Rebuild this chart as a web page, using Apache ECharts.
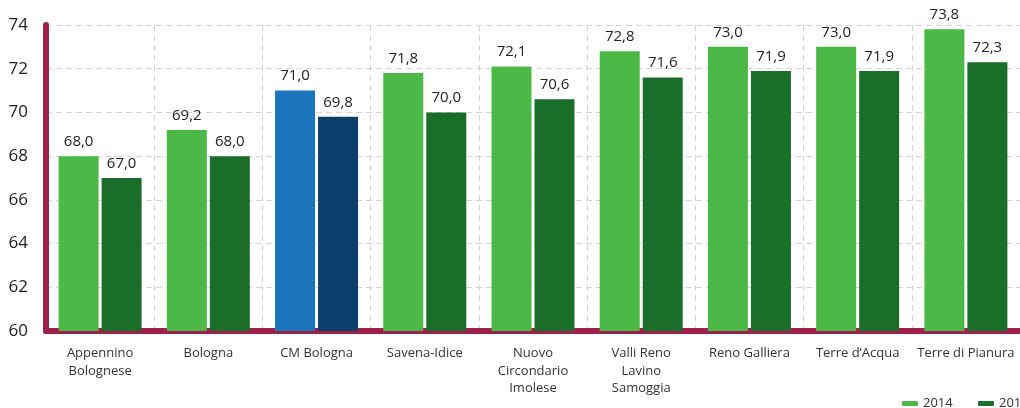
<!DOCTYPE html>
<html><head><meta charset="utf-8">
<script src="https://cdn.jsdelivr.net/npm/echarts@6/dist/echarts.min.js"></script>
<style>html,body{margin:0;padding:0;background:#fff}#c{width:1020px;height:408px}</style>
</head><body><div id="c"></div>
<script>
const categories = ['Appennino\nBolognese','Bologna','CM Bologna','Savena-Idice','Nuovo\nCircondario\nImolese','Valli Reno\nLavino\nSamoggia','Reno Galliera','Terre d\u2019Acqua','Terre di Pianura'];
const values2014 = [68.0, 69.2, 71.0, 71.8, 72.1, 72.8, 73.0, 73.0, 73.8];
const values2019 = [67.0, 68.0, 69.8, 70.0, 70.6, 71.6, 71.9, 71.9, 72.3];
const seriesNames = ['2014', '2019'];
const highlightCategory = 'CM Bologna';

const C1 = '#4cb848', C2 = '#1a6e2a', H1 = '#1a75bc', H2 = '#0c3f6b';
const FONT = 'Open Sans';
const fmt = p => p.value.toFixed(1).replace('.', ',');
function mk(vals, base, hi) {
  return vals.map((v, i) => categories[i] === highlightCategory ? {value: v, itemStyle: {color: hi}} : {value: v, itemStyle: {color: base}});
}
const labelCfg = {show: true, position: 'top', distance: 7, formatter: fmt, color: '#222', fontSize: 15, fontFamily: FONT};
const chart = echarts.init(document.getElementById('c'));
chart.setOption({
  animation: false,
  textStyle: {fontFamily: FONT},
  grid: {left: 46, right: -4, top: 25, bottom: 77, containLabel: false},
  legend: [
    {data: [seriesNames[0]], left: 897, top: 392, itemWidth: 16, itemHeight: 5, icon: 'roundRect', textStyle: {fontSize: 13, color: '#333', fontFamily: FONT}},
    {data: [seriesNames[1]], left: 973, top: 392, itemWidth: 16, itemHeight: 5, icon: 'roundRect', textStyle: {fontSize: 13, color: '#333', fontFamily: FONT}}
  ],
  xAxis: {
    type: 'category', data: categories,
    axisLine: {lineStyle: {color: '#9e2149', width: 6, cap: 'round'}},
    axisTick: {show: false},
    axisLabel: {color: '#333', fontSize: 13, lineHeight: 17.5, margin: 14, interval: 0, fontFamily: FONT},
    splitLine: {show: true, lineStyle: {color: '#d4d4d4', type: [6, 4], width: 1}}
  },
  yAxis: {
    type: 'value', min: 60, max: 74, interval: 2,
    axisLine: {show: true, lineStyle: {color: '#9e2149', width: 6, cap: 'round'}},
    axisTick: {show: false},
    axisLabel: {color: '#222', fontSize: 17, margin: 18, fontFamily: FONT},
    splitLine: {lineStyle: {color: '#d4d4d4', type: [6, 4], width: 1}}
  },
  series: [
    {name: seriesNames[0], type: 'bar', data: mk(values2014, C1, H1), itemStyle: {color: C1}, barWidth: 40, barGap: '7.5%', label: labelCfg, z: 1},
    {name: seriesNames[1], type: 'bar', data: mk(values2019, C2, H2), itemStyle: {color: C2}, barWidth: 40, label: labelCfg, z: 1}
  ]
});
</script></body></html>
